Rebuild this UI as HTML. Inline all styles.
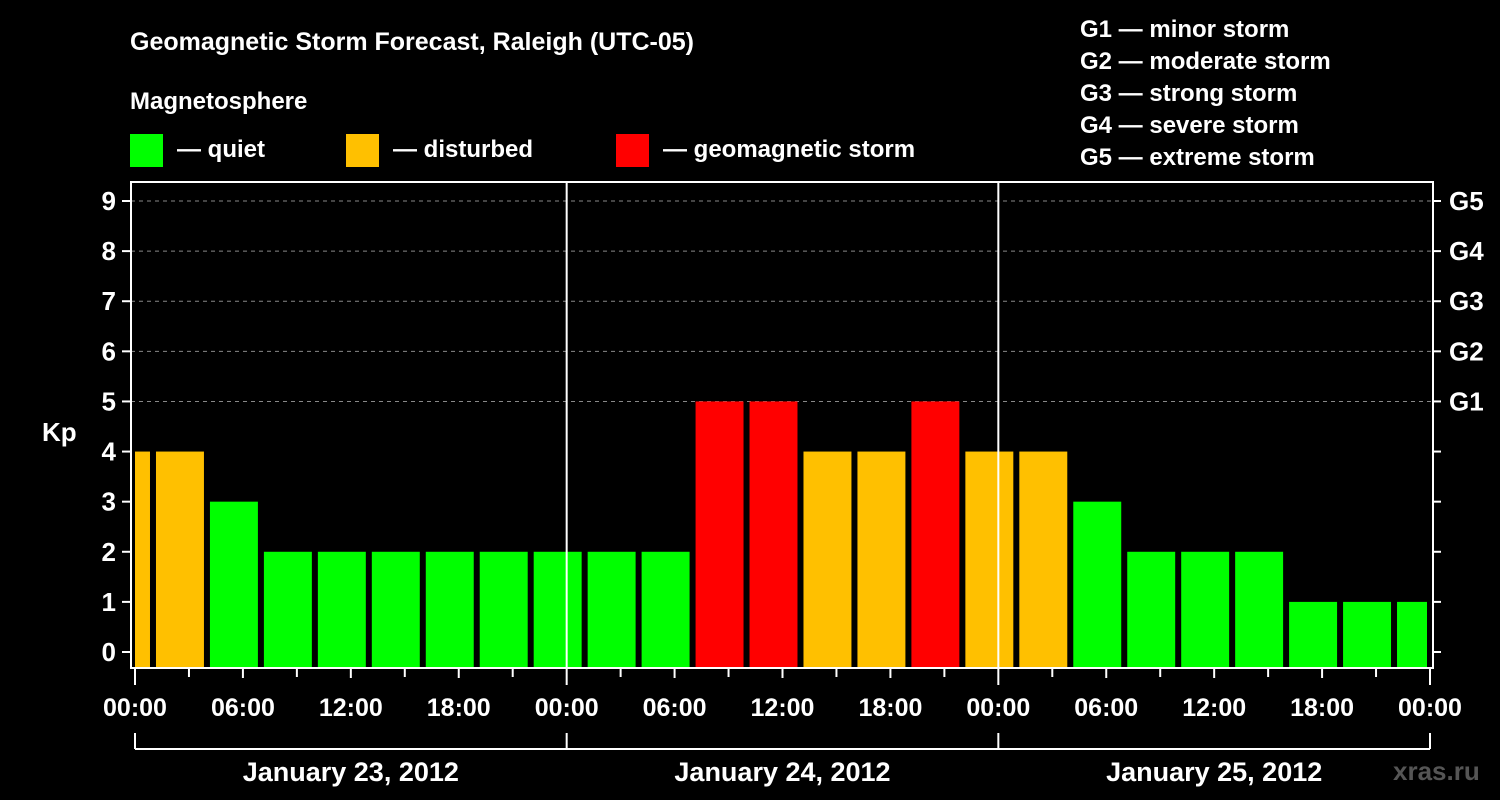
<!DOCTYPE html>
<html><head><meta charset="utf-8"><style>
body{margin:0;background:#000;width:1500px;height:800px;overflow:hidden}
svg{display:block;font-family:"Liberation Sans",Arial,sans-serif;font-weight:bold}
</style></head><body>
<svg id="c" width="1500" height="800" viewBox="0 0 1500 800">
<text x="130" y="50" fill="#fff" font-size="25">Geomagnetic Storm Forecast, Raleigh (UTC-05)</text>
<text x="130" y="109" fill="#fff" font-size="24">Magnetosphere</text>
<g><rect x="130" y="134" width="33" height="33" fill="#00ff00"/><text x="177" y="157" fill="#fff" font-size="24">— quiet</text></g>
<g><rect x="346" y="134" width="33" height="33" fill="#ffc000"/><text x="393" y="157" fill="#fff" font-size="24">— disturbed</text></g>
<g><rect x="616" y="134" width="33" height="33" fill="#ff0000"/><text x="663" y="157" fill="#fff" font-size="24">— geomagnetic storm</text></g>
<g fill="#fff" font-size="24">
<text x="1080" y="37">G1 — minor storm</text><text x="1080" y="69">G2 — moderate storm</text><text x="1080" y="101">G3 — strong storm</text><text x="1080" y="133">G4 — severe storm</text><text x="1080" y="165">G5 — extreme storm</text></g>
<text x="42" y="441" fill="#fff" font-size="26">Kp</text>
<g id="grid"></g><g id="bars"></g><g id="axes"></g>
<text x="1393" y="780" fill="#555" font-size="26">xras.ru</text>
</svg>
<script>
const kpValues=[4,4,3,2,2,2,2,2,2,2,2,5,5,4,4,5,4,4,3,2,2,2,1,1,1];
const barStartHours=[-2,1,4,7,10,13,16,19,22,25,28,31,34,37,40,43,46,49,52,55,58,61,64,67,70];
const timeLabels=["00:00","06:00","12:00","18:00","00:00","06:00","12:00","18:00","00:00","06:00","12:00","18:00","00:00"];
const dayLabels=["January 23, 2012","January 24, 2012","January 25, 2012"];
const gLabels=["G1","G2","G3","G4","G5"];
const NS="http://www.w3.org/2000/svg";
const X0=135,X1=1430,H=72,Y0=652,Y9=201,PB=668,PT=182,PL=131,PR=1433;
const xs=h=>X0+(X1-X0)*h/H, ys=v=>Y0+(Y9-Y0)*v/9;
function mk(t,a,p){const e=document.createElementNS(NS,t);for(const k in a)e.setAttribute(k,a[k]);document.getElementById(p).appendChild(e);return e;}
for(let v=5;v<=9;v++){const l=mk('line',{x1:PL,x2:PR,y1:ys(v),y2:ys(v),stroke:'#888','stroke-dasharray':'4 4'},'grid');

}
kpValues.forEach((v,i)=>{const a=Math.max(0,barStartHours[i]),b=Math.min(H,barStartHours[i]+3);
const x0=barStartHours[i]<0?xs(a):xs(a)+3,x1=xs(b)-3;
const c=v>=5?'#ff0000':v>=4?'#ffc000':'#00ff00';
const r=mk('rect',{x:x0,y:ys(v),width:x1-x0,height:PB-ys(v),fill:c},'bars');

});
for(const d of [1,2]){const l=mk('line',{x1:xs(24*d),x2:xs(24*d),y1:PT,y2:PB,stroke:'#fff','stroke-width':2},'axes');

}
mk('rect',{x:PL,y:PT,width:PR-PL,height:PB-PT,fill:'none',stroke:'#fff','stroke-width':2},'axes');
for(let v=0;v<=9;v++){mk('line',{x1:PL-9,x2:PL,y1:ys(v),y2:ys(v),stroke:'#fff','stroke-width':2},'axes');
mk('line',{x1:PR,x2:PR+8,y1:ys(v),y2:ys(v),stroke:'#fff','stroke-width':2},'axes');
const t=mk('text',{x:116,y:ys(v)+9,fill:'#fff','font-size':26,'text-anchor':'end'},'axes');t.textContent=v;

}
gLabels.forEach((g,i)=>{const t=mk('text',{x:1449,y:ys(5+i)+9,fill:'#fff','font-size':26},'axes');t.textContent=g;

});
for(let h=0;h<=H;h+=3){const len=h%24==0?17:h%6==0?10:9;
mk('line',{x1:xs(h),x2:xs(h),y1:PB,y2:PB+len,stroke:'#fff','stroke-width':2},'axes');}
timeLabels.forEach((s,i)=>{const t=mk('text',{x:xs(i*6),y:716,fill:'#fff','font-size':25,'text-anchor':'middle'},'axes');t.textContent=s;

});
mk('line',{x1:X0,x2:X1,y1:749,y2:749,stroke:'#fff','stroke-width':2},'axes');
for(let d=0;d<=3;d++)mk('line',{x1:xs(24*d),x2:xs(24*d),y1:733,y2:749,stroke:'#fff','stroke-width':2},'axes');
dayLabels.forEach((s,i)=>{const t=mk('text',{x:xs(24*i+12),y:781,fill:'#fff','font-size':27,'text-anchor':'middle'},'axes');t.textContent=s;

});
</script>
</body></html>
